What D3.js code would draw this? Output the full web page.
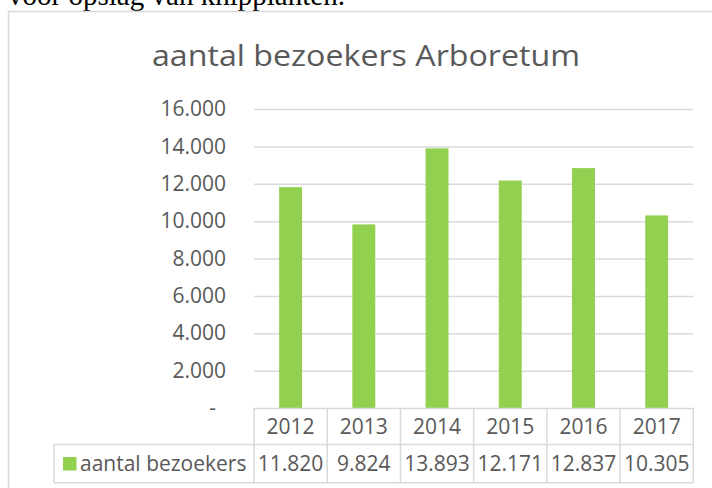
<!DOCTYPE html>
<html>
<head>
<meta charset="utf-8">
<script src="https://cdn.jsdelivr.net/npm/d3@7"></script>
<style>
  body { margin: 0; background: #fff; }
  svg { display: block; }
  text { font-family: "Open Sans", "Noto Sans", sans-serif; fill: #595959; }
</style>
</head>
<body>
<svg id="chart"></svg>
<script>
const years = ["2012", "2013", "2014", "2015", "2016", "2017"];
const visitors = [11820, 9824, 13893, 12171, 12837, 10305];
const valueLabels = ["11.820", "9.824", "13.893", "12.171", "12.837", "10.305"];
const yTicks = [0, 2000, 4000, 6000, 8000, 10000, 12000, 14000, 16000];
const yTickLabels = ["-", "2.000", "4.000", "6.000", "8.000", "10.000", "12.000", "14.000", "16.000"];
const seriesName = "aantal bezoekers";
const title = "aantal bezoekers Arboretum";

(function() {
  const w = 712, h = 488;
  const left = 254, right = 693.3, top = 109, bottom = 408;
  const headBottom = 444.5, rowBottom = 482.7;
  const green = "#92d050", grid = "#d9d9d9";

  const svg = d3.select("#chart").attr("width", w).attr("height", h);

  // leftover document text above the chart
  svg.append("text")
    .attr("x", 8).attr("y", 5)
    .attr("textLength", 337).attr("lengthAdjust", "spacingAndGlyphs")
    .style("font-family", "'Liberation Serif', serif")
    .style("font-size", "29px")
    .style("fill", "#000")
    .text("voor opslag van knipplanten.");

  // chart area border (runs off the page right and bottom)
  svg.append("rect")
    .attr("x", 8.5).attr("y", 11.5)
    .attr("width", 800).attr("height", 600)
    .attr("fill", "none").attr("stroke", grid).attr("stroke-width", 1.5);

  svg.append("text")
    .attr("x", 366).attr("y", 66)
    .attr("text-anchor", "middle")
    .attr("textLength", 428).attr("lengthAdjust", "spacingAndGlyphs")
    .style("font-size", "30px")
    .text(title);

  const x = d3.scaleBand().domain(years).range([left, right]);
  const y = d3.scaleLinear().domain([0, 16000]).range([bottom, top]);

  // gridlines
  svg.append("g")
    .attr("transform", `translate(${left},0)`)
    .call(d3.axisLeft(y).tickValues(yTicks.slice(1)).tickSize(-(right - left)).tickFormat(""))
    .call(g => g.select(".domain").remove())
    .call(g => g.selectAll("line").attr("stroke", grid).attr("stroke-width", 1.5));

  // y labels
  svg.append("g")
    .attr("transform", `translate(226,0)`)
    .call(d3.axisLeft(y).tickValues(yTicks).tickSize(0).tickPadding(0)
      .tickFormat((d, i) => yTickLabels[i]))
    .call(g => g.select(".domain").remove())
    .call(g => g.selectAll("text")
      .style("font-size", "21px")
      .attr("fill", "#595959")
      .attr("dx", (d) => d === 0 ? -10 : 0));

  // bars
  const bw = x.bandwidth() * 0.313;
  svg.selectAll("rect.bar")
    .data(visitors)
    .enter()
    .append("rect")
    .attr("class", "bar")
    .attr("x", (d, i) => x(years[i]) + (x.bandwidth() - bw) / 2)
    .attr("y", d => y(d))
    .attr("width", bw)
    .attr("height", d => y(0) - y(d))
    .attr("fill", green);

  // data table
  const table = svg.append("g")
    .attr("fill", "none").attr("stroke", grid).attr("stroke-width", 1.5);
  table.append("line").attr("x1", left).attr("x2", right).attr("y1", bottom + 0.5).attr("y2", bottom + 0.5);
  table.append("line").attr("x1", 54).attr("x2", right).attr("y1", headBottom).attr("y2", headBottom);
  table.append("line").attr("x1", 54).attr("x2", right).attr("y1", rowBottom).attr("y2", rowBottom);
  table.append("line").attr("x1", 54).attr("x2", 54).attr("y1", headBottom).attr("y2", rowBottom);
  table.selectAll("line.col")
    .data(years.concat(["end"]))
    .enter()
    .append("line")
    .attr("class", "col")
    .attr("x1", (d, i) => i < years.length ? x(d) : right)
    .attr("x2", (d, i) => i < years.length ? x(d) : right)
    .attr("y1", bottom)
    .attr("y2", rowBottom);

  svg.selectAll("text.year")
    .data(years)
    .enter()
    .append("text")
    .attr("class", "year")
    .attr("x", d => x(d) + x.bandwidth() / 2)
    .attr("y", 434)
    .attr("text-anchor", "middle")
    .style("font-size", "21px")
    .text(d => d);

  svg.selectAll("text.val")
    .data(valueLabels)
    .enter()
    .append("text")
    .attr("class", "val")
    .attr("x", (d, i) => x(years[i]) + x.bandwidth() / 2)
    .attr("y", 471)
    .attr("text-anchor", "middle")
    .style("font-size", "21px")
    .text(d => d);

  svg.append("rect")
    .attr("x", 63).attr("y", 457)
    .attr("width", 13.5).attr("height", 13.5)
    .attr("fill", green);

  svg.append("text")
    .attr("x", 80).attr("y", 471)
    .style("font-size", "21px")
    .text(seriesName);
})();
</script>
</body>
</html>
